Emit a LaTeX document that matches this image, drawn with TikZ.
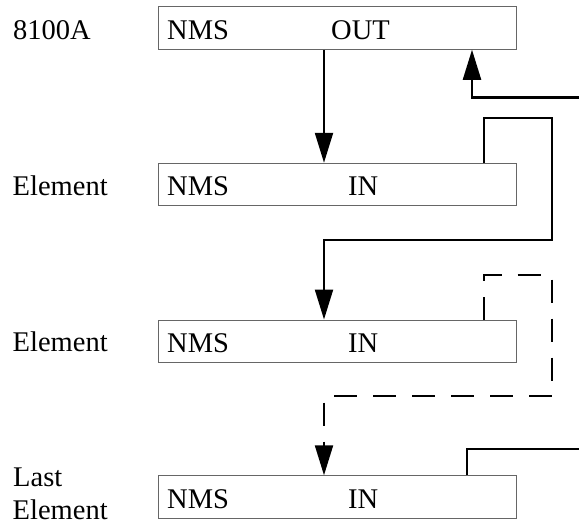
\documentclass[tikz,border=0pt]{standalone}
\usepackage{fontspec}
\setmainfont{Liberation Serif}
\usetikzlibrary{arrows.meta}
\begin{document}
\begin{tikzpicture}[x=1pt,y=-1pt,
  box/.style={draw=black!60,line width=1pt,rectangle,minimum width=358pt,minimum height=42.5pt,inner sep=0pt},
  txt/.style={inner sep=0pt,anchor=base west,font=\fontsize{28.5}{34}\selectfont},
  wire/.style={line width=2.2pt,line cap=butt},
  arr/.style={wire,-{Triangle[length=30pt,width=18pt]}},
  dashwire/.style={wire,dash pattern=on 23pt off 16pt}]
\useasboundingbox (0,0) rectangle (579,525);
% boxes
\node[box] (b1) at (337,28) {};
\node[box] (b2) at (337,184.5) {};
\node[box] (b3) at (337,341.25) {};
\node[box] (b4) at (337,497) {};
% labels
\node[txt] (l1) at (13,39) {8100A};
\node[txt] (l2) at (12.5,195.5) {Element};
\node[txt] (l3) at (12.5,351.5) {Element};
\node[txt] (l4a) at (13,486) {Last};
\node[txt] (l4b) at (12.5,519.5) {Element};
\node[txt] (n1) at (167,39) {NMS};
\node[txt] (o1) at (331,39) {OUT};
\node[txt] (n2) at (167,195.5) {NMS};
\node[txt] (i2) at (348,195.5) {IN};
\node[txt] (n3) at (167,352) {NMS};
\node[txt] (i3) at (348,352) {IN};
\node[txt] (n4) at (167,508) {NMS};
\node[txt] (i4) at (348,508) {IN};
% helper coordinates
\coordinate (xa) at (324,0);
\coordinate (xb) at (472,0);
\coordinate (xc) at (484,0);
\coordinate (xe) at (467,0);
\coordinate (r1) at (580,97.5);
\coordinate (c1) at (552,118);
\coordinate (c2) at (552,240);
\coordinate (d1) at (552,275);
\coordinate (d2) at (552,396);
\coordinate (r2) at (580,449);
% connectors
\draw[arr] (b1.south -| xa) -- (b2.north -| xa);
\draw[arr] (r1) -- (r1 -| xb) -- (b1.south -| xb);
\draw[arr] (b2.north -| xc) |- (c1) -- (c2) -| (b3.north -| xa);
\draw[arr,dashwire] (b3.north -| xc) |- (d1) -- (d2) -| (b4.north -| xa);
\draw[wire] (b4.north -| xe) |- (r2);
\end{tikzpicture}
\end{document}
